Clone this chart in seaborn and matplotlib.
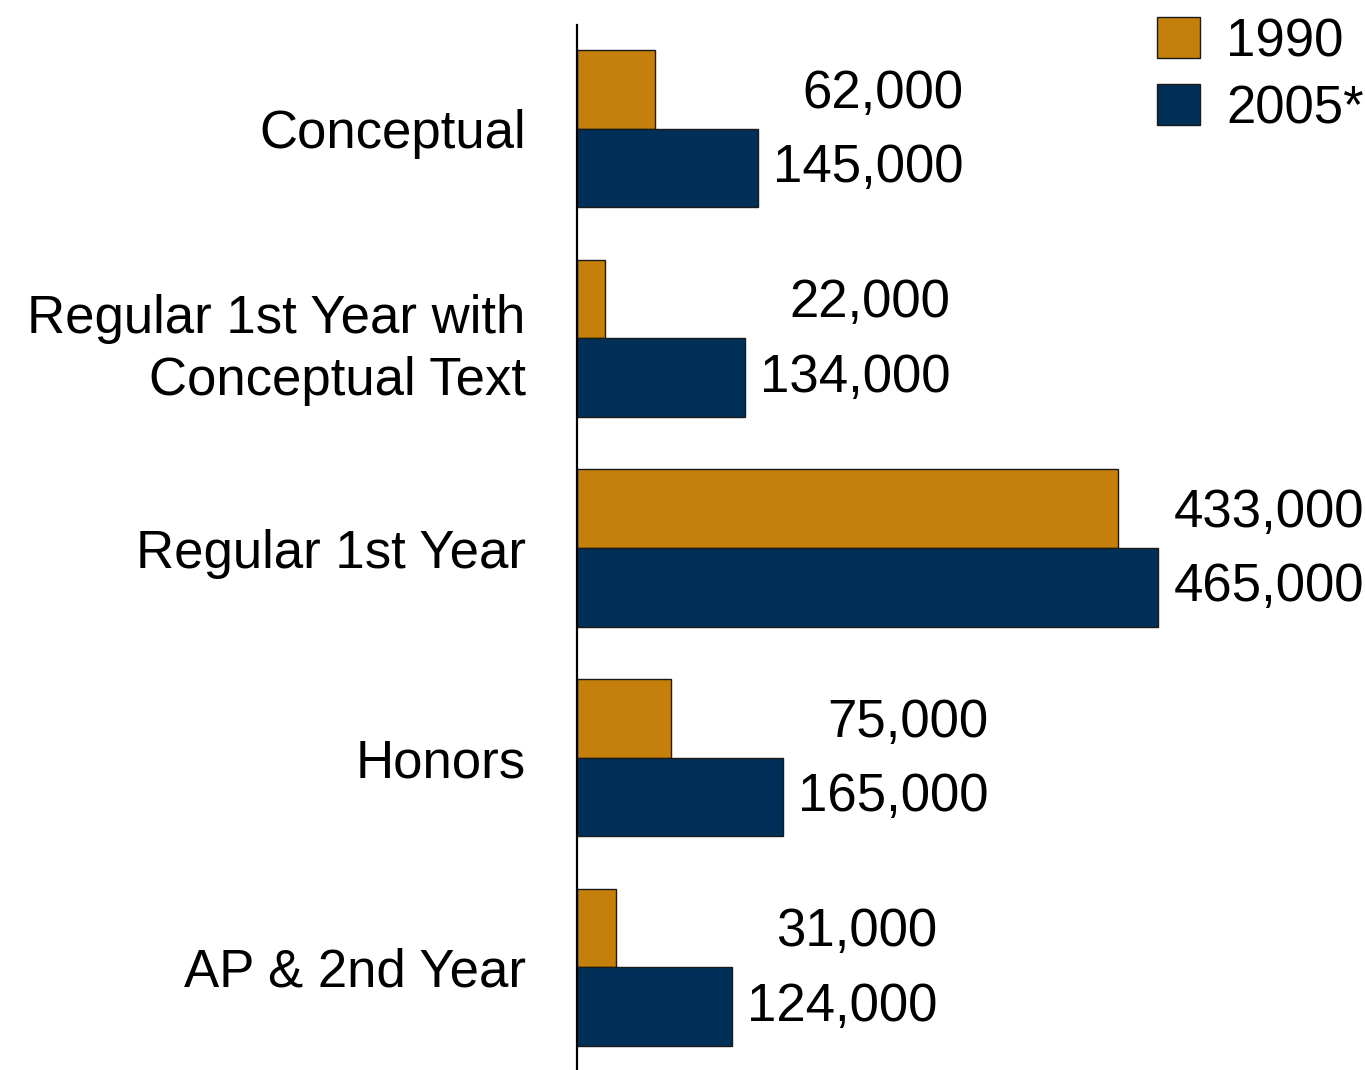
import numpy as np
import pandas as pd
import matplotlib
matplotlib.use('Agg')
import matplotlib.pyplot as plt
import seaborn as sns

# Chart data
categories = ['Conceptual', 'Regular 1st Year with\nConceptual Text', 'Regular 1st Year', 'Honors', 'AP & 2nd Year']
years = ['1990', '2005*']
values_1990 = [62000, 22000, 433000, 75000, 31000]
values_2005 = [145000, 134000, 465000, 165000, 124000]
colors = ['#C4800A', '#003057']

# Long form table for seaborn
df = pd.DataFrame({
    'Course': categories * 2,
    'Year': [years[0]] * len(categories) + [years[1]] * len(categories),
    'Students': values_1990 + values_2005,
})

sns.set_style('white')
plt.rcParams['font.family'] = ['Liberation Sans', 'DejaVu Sans']
plt.rcParams['text.color'] = 'black'
plt.rcParams['ytick.color'] = 'black'
plt.rcParams['ytick.labelcolor'] = 'black'

FS = 38

fig = plt.figure(figsize=(13.65, 10.7), dpi=100)
ax = fig.add_axes([577 / 1365, 0, 1 - 577 / 1365, 1045 / 1070])

sns.barplot(data=df, y='Course', x='Students', hue='Year', order=categories, hue_order=years,
            palette=colors, orient='h', width=0.75, gap=0, edgecolor='#1a1a1a', linewidth=1,
            saturation=1, ax=ax)

ax.set_xlim(0, (1365 - 577) * 800)
ax.set_ylim(len(categories) - 0.51, -0.495)

# Value labels, both right aligned relative to the 2005 bar end
for i, (v1, v2) in enumerate(zip(values_1990, values_2005)):
    ax.annotate(f'{v1:,}', xy=(v2, i - 0.1875), xytext=(148, -3), textcoords='offset points',
                ha='right', va='center', fontsize=FS, color='black', annotation_clip=False)
    ax.annotate(f'{v2:,}', xy=(v2, i + 0.1875), xytext=(148, 0), textcoords='offset points',
                ha='right', va='center', fontsize=FS, color='black', annotation_clip=False)

# Axes styling
for side in ['top', 'right', 'bottom']:
    ax.spines[side].set_visible(False)
ax.spines['left'].set_linewidth(1.6)
ax.spines['left'].set_color('black')
ax.set_xticks([])
ax.set_xlabel('')
ax.set_ylabel('')
ax.tick_params(axis='y', length=0, pad=37, labelsize=FS, labelcolor='black')
for lbl in ax.get_yticklabels():
    lbl.set_multialignment('right')
    lbl.set_linespacing(1.3)

# Legend in top right corner
handles, labels = ax.get_legend_handles_labels()
ax.legend(handles, labels, loc='upper right', bbox_to_anchor=(1385 / 1365, 1 + 4 / 1070),
          bbox_transform=fig.transFigure, frameon=False, fontsize=FS,
          handlelength=0.81, handleheight=0.81, handletextpad=0.5, labelspacing=0.32,
          borderaxespad=0)

fig.savefig('out.png', dpi=100)
